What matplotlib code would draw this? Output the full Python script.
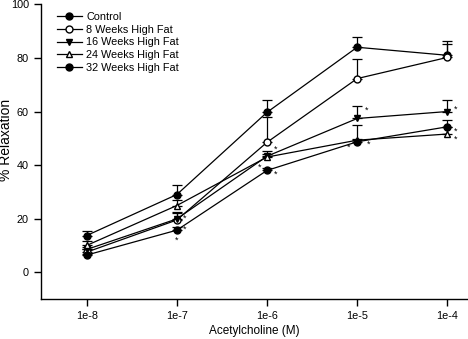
import matplotlib
matplotlib.use("Agg")
import matplotlib.pyplot as plt

plt.rcParams['font.family'] = ['Liberation Sans', 'DejaVu Sans']

# log10 of acetylcholine concentration (M)
conc = [-8, -7, -6, -5, -4]
conc_labels = ['1e-8', '1e-7', '1e-6', '1e-5', '1e-4']

control = [13.7, 29.0, 59.7, 84.0, 81.0]
control_err = [1.8, 3.7, 4.5, 3.7, 5.5]
wk8 = [7.5, 19.5, 48.5, 72.3, 80.2]
wk8_err = [1.0, 2.5, 9.5, 7.3, 5.0]
wk16 = [8.5, 19.9, 43.3, 57.4, 60.0]
wk16_err = [1.0, 2.5, 2.0, 4.6, 4.4]
wk24 = [10.0, 24.9, 43.0, 49.3, 51.6]
wk24_err = [1.6, 2.0, 1.0, 5.7, 2.5]
wk32 = [6.4, 15.7, 38.0, 48.7, 54.3]
wk32_err = [0.5, 1.0, 1.0, 1.0, 2.7]

# significance asterisks (x in log units, y in % relaxation)
star_x = [-6.91, -6.91, -7.0, -5.9, -6.08, -5.9, -4.9, -5.09, -4.875, -3.91, -3.91, -3.91]
star_y = [20.3, 15.9, 11.9, 46.0, 39.3, 36.7, 60.3, 46.8, 47.9, 60.7, 52.6, 49.8]

series = [
    ('Control', control, control_err, 'o', 'black'),
    ('8 Weeks High Fat', wk8, wk8_err, 'o', 'white'),
    ('16 Weeks High Fat', wk16, wk16_err, 'v', 'black'),
    ('24 Weeks High Fat', wk24, wk24_err, '^', 'white'),
    ('32 Weeks High Fat', wk32, wk32_err, 'o', 'black'),
]

fig = plt.figure(figsize=(4.68, 3.39), dpi=100)
ax = fig.add_axes([0.087, 0.118, 0.913, 0.869])

lines = []
for name, vals, err, mk, fc in series:
    c = ax.errorbar(conc, vals, yerr=[[0] * len(err), err], color='black',
                    marker=mk, markerfacecolor=fc, markeredgecolor='black',
                    markersize=5, linewidth=0.9, elinewidth=0.9, capsize=3.6,
                    capthick=0.9)
    lines.append(c[0])

for sx, sy in zip(star_x, star_y):
    ax.text(sx, sy, '*', ha='center', va='center', fontsize=6.5)

ax.set_xlim(-8.51, -3.77)
ax.set_ylim(-10, 100)
ax.set_xticks(conc)
ax.set_xticklabels(conc_labels)
ax.set_yticks([0, 20, 40, 60, 80, 100])

for s in ['top', 'right']:
    ax.spines[s].set_visible(False)
for s in ['left', 'bottom']:
    ax.spines[s].set_linewidth(1.0)
ax.tick_params(direction='out', length=5, width=1, labelsize=7.8, colors='black')

ax.set_xlabel('Acetylcholine (M)', fontsize=8.5, labelpad=3)
ax.set_ylabel('% Relaxation', fontsize=10)
ax.yaxis.set_label_coords(-0.066, 0.54)

ax.legend(lines, [s[0] for s in series], loc='upper left',
          bbox_to_anchor=(0.02, 1.0), frameon=False, fontsize=7.8,
          handlelength=2.3, labelspacing=0.25, handletextpad=0.4,
          borderaxespad=0.3)

fig.savefig('out.png', dpi=100)
